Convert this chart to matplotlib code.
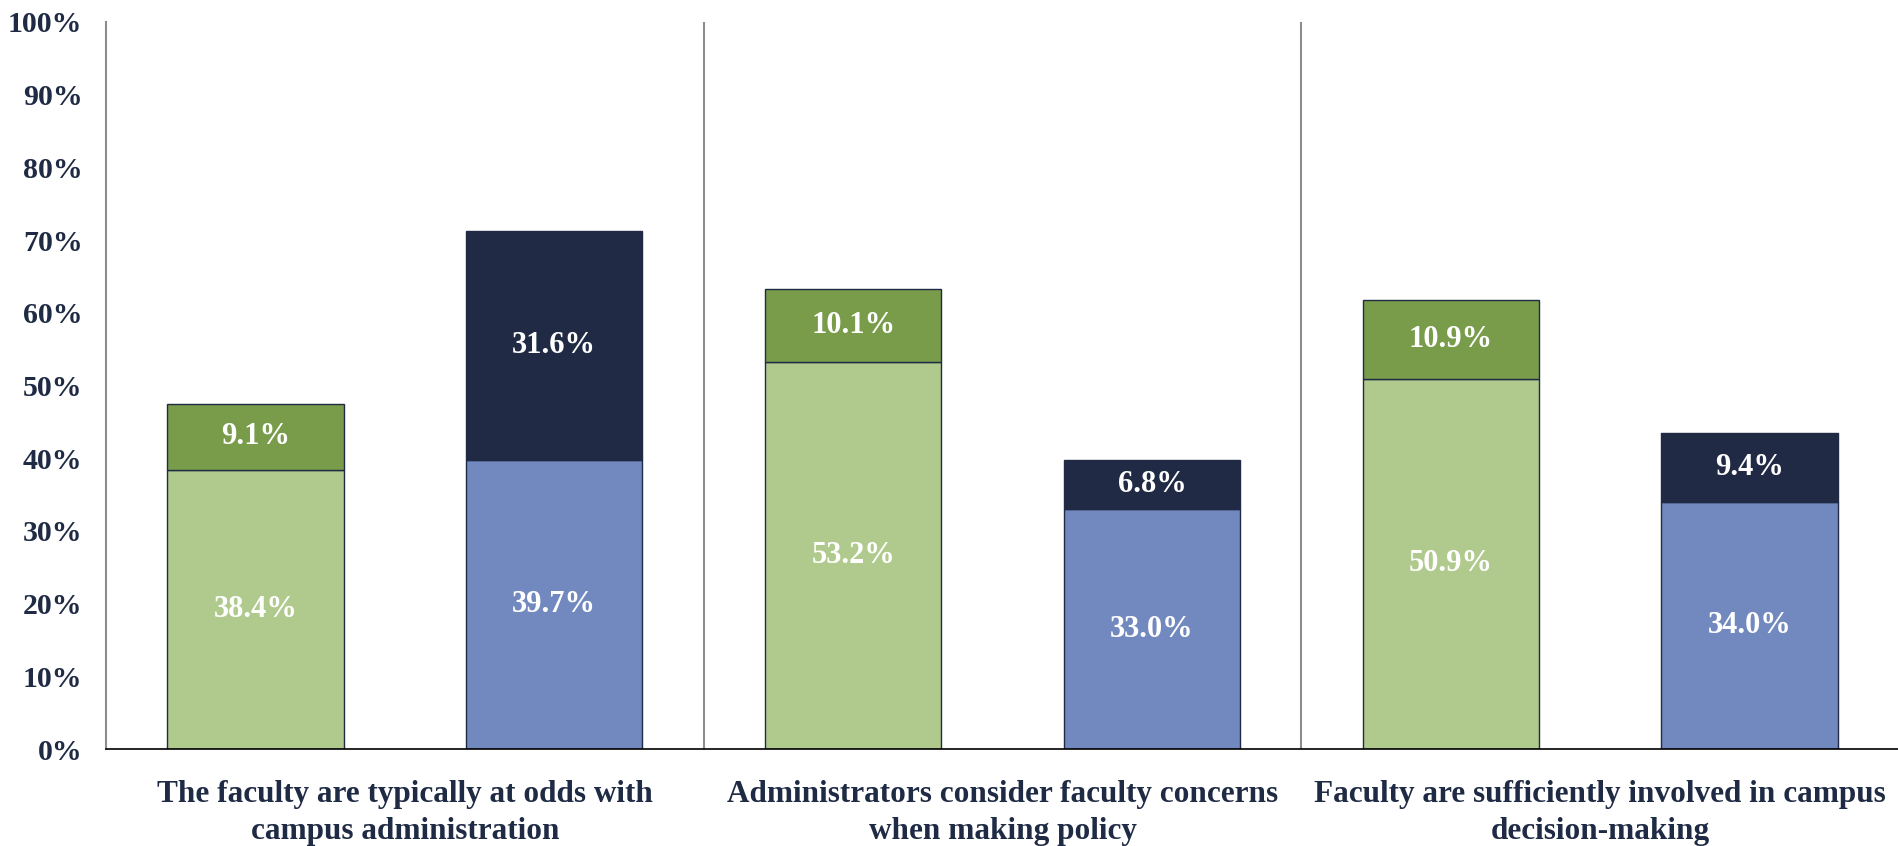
import matplotlib
matplotlib.use("Agg")
import matplotlib.pyplot as plt
import numpy as np

plt.rcParams['font.family'] = ['Liberation Serif', 'DejaVu Serif']
plt.rcParams['font.weight'] = 'bold'

categories = ["The faculty are typically at odds with\ncampus administration",
              "Administrators consider faculty concerns\nwhen making policy",
              "Faculty are sufficiently involved in campus\ndecision-making"]
green_base = [38.4, 53.2, 50.9]
green_top = [9.1, 10.1, 10.9]
blue_base = [39.7, 33.0, 34.0]
blue_top = [31.6, 6.8, 9.4]
yticks = [0, 10, 20, 30, 40, 50, 60, 70, 80, 90, 100]

c_lg = "#B0C98D"
c_dg = "#789C4A"
c_lb = "#7289C0"
c_nv = "#202A45"
txt = "#1F2A44"

fig = plt.figure(figsize=(18.99, 8.46), dpi=100)
ax = fig.add_axes([106/1899, 1-749/846, 1-106/1899, (749-22)/846])

n = len(categories)
xg = np.arange(n) * 2 + 0.5
xb = np.arange(n) * 2 + 1.5
w = 0.59
ec = c_nv
ax.bar(xg, green_base, w, color=c_lg, edgecolor=ec, linewidth=1)
ax.bar(xg, green_top, w, bottom=green_base, color=c_dg, edgecolor=ec, linewidth=1)
ax.bar(xb, blue_base, w, color=c_lb, edgecolor=ec, linewidth=1)
ax.bar(xb, blue_top, w, bottom=blue_base, color=c_nv, edgecolor=ec, linewidth=1)

lab_kw = dict(ha='center', va='center', color='white', fontsize=22, fontweight='bold')
for i in range(n):
    ax.text(xg[i], green_base[i] / 2, f"{green_base[i]:.1f}%", **lab_kw)
    ax.text(xg[i], green_base[i] + green_top[i] / 2, f"{green_top[i]:.1f}%", **lab_kw)
    ax.text(xb[i], blue_base[i] / 2, f"{blue_base[i]:.1f}%", **lab_kw)
    ax.text(xb[i], blue_base[i] + blue_top[i] / 2, f"{blue_top[i]:.1f}%", **lab_kw)

for s in [2, 4]:
    ax.axvline(s, color='#8C8C8C', linewidth=1.5, zorder=0)

ax.set_xlim(0, 2 * n)
ax.set_ylim(0, 100)
ax.set_yticks(yticks)
ax.set_yticklabels([f"{v}%" for v in yticks], fontsize=21.5, fontweight='bold', color=txt)
ax.set_xticks(np.arange(n) * 2 + 1)
ax.set_xticklabels(categories, fontsize=22.5, fontweight='bold', color=txt, linespacing=1.38)
ax.tick_params(axis='y', length=0, pad=17)
ax.tick_params(axis='x', length=0, pad=22)

for sp in ['top', 'right']:
    ax.spines[sp].set_visible(False)
ax.spines['left'].set_color('#8C8C8C')
ax.spines['left'].set_linewidth(1.5)
ax.spines['bottom'].set_color('#000000')
ax.spines['bottom'].set_linewidth(1.2)

fig.savefig("out.png", dpi=100)
